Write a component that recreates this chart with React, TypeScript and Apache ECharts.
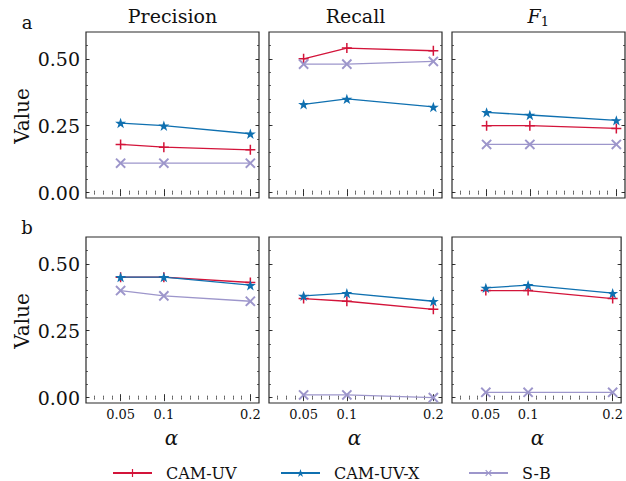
import React, { useEffect, useRef } from 'react';
import * as echarts from 'echarts';

// ---------- data ----------
const alphas = [0.05, 0.1, 0.2];
const seriesNames = ['CAM-UV', 'CAM-UV-X', 'S-B'];
const columnTitles = ['Precision', 'Recall', 'F1'];
const rowLabels = ['a', 'b'];

// row a
const precisionA_CAMUV = [0.18, 0.17, 0.16];
const precisionA_CAMUVX = [0.26, 0.25, 0.22];
const precisionA_SB = [0.11, 0.11, 0.11];
const recallA_CAMUV = [0.5, 0.54, 0.53];
const recallA_CAMUVX = [0.33, 0.35, 0.32];
const recallA_SB = [0.48, 0.48, 0.49];
const f1A_CAMUV = [0.25, 0.25, 0.24];
const f1A_CAMUVX = [0.3, 0.29, 0.27];
const f1A_SB = [0.18, 0.18, 0.18];
// row b
const precisionB_CAMUV = [0.45, 0.45, 0.43];
const precisionB_CAMUVX = [0.45, 0.45, 0.42];
const precisionB_SB = [0.4, 0.38, 0.36];
const recallB_CAMUV = [0.37, 0.36, 0.33];
const recallB_CAMUVX = [0.38, 0.39, 0.36];
const recallB_SB = [0.01, 0.01, 0.0];
const f1B_CAMUV = [0.4, 0.4, 0.37];
const f1B_CAMUVX = [0.41, 0.42, 0.39];
const f1B_SB = [0.02, 0.02, 0.02];

const panels = [
  [precisionA_CAMUV, precisionA_CAMUVX, precisionA_SB],
  [recallA_CAMUV, recallA_CAMUVX, recallA_SB],
  [f1A_CAMUV, f1A_CAMUVX, f1A_SB],
  [precisionB_CAMUV, precisionB_CAMUVX, precisionB_SB],
  [recallB_CAMUV, recallB_CAMUVX, recallB_SB],
  [f1B_CAMUV, f1B_CAMUVX, f1B_SB],
];

// ---------- ticks ----------
const xMin = 0.01;
const xMax = 0.21;
const yMin = -0.02;
const yMax = 0.6;
const xMajorTicks = [0.05, 0.1, 0.2];
const xMinorTicks = [0.02, 0.03, 0.04, 0.05, 0.06, 0.07, 0.08, 0.09, 0.1, 0.11, 0.12, 0.13, 0.14, 0.15, 0.16, 0.17, 0.18, 0.19, 0.2];
const yMajorTicks = [0, 0.25, 0.5];
const yMinorTicks = [0, 0.05, 0.1, 0.15, 0.2, 0.25, 0.3, 0.35, 0.4, 0.45, 0.5, 0.55];

// ---------- style ----------
const FONT = 'DejaVu Serif';
const colors = ['#d3143a', '#0f70b0', '#9d96cb'];
const PLUS = 'path://M8.5,0 L11.5,0 L11.5,8.5 L20,8.5 L20,11.5 L11.5,11.5 L11.5,20 L8.5,20 L8.5,11.5 L0,11.5 L0,8.5 L8.5,8.5 Z';
const STAR = 'path://M50,0 L61.8,35.1 L98.5,35.1 L68.8,56.8 L79.4,91.5 L50,70 L20.6,91.5 L31.2,56.8 L1.5,35.1 L38.2,35.1 Z';
const symbols = [PLUS, STAR, PLUS];
const symbolSizes = [10, 11, 13];
const symbolRotates = [0, 0, 45];

const gridLefts = [86, 269, 452];
const gridTops = [32, 237];
const gridW = 173;
const gridH = 166;
const tickColor = '#222';

export default function App() {
  const ref = useRef<HTMLDivElement>(null);
  useEffect(() => {
    if (!ref.current) return;
    const chart = echarts.init(ref.current, undefined, { renderer: 'svg' });

    const grids: any[] = [];
    const xAxes: any[] = [];
    const yAxes: any[] = [];
    const series: any[] = [];

    for (let g = 0; g < 6; g++) {
      const row = Math.floor(g / 3);
      const col = g % 3;
      grids.push({
        left: gridLefts[col],
        top: gridTops[row],
        width: gridW,
        height: gridH,
        show: true,
        borderColor: '#2a2a2a',
        borderWidth: 1.2,
        backgroundColor: 'transparent',
      });
      const xBase = {
        gridIndex: g,
        type: 'value',
        min: xMin,
        max: xMax,
        axisLine: { show: false },
        splitLine: { show: false },
      };
      const yBase = {
        gridIndex: g,
        type: 'value',
        min: yMin,
        max: yMax,
        axisLine: { show: false },
        splitLine: { show: false },
      };
      ['bottom', 'top'].forEach((pos) => {
        xAxes.push({
          ...xBase,
          position: pos,
          axisTick: { show: true, inside: true, length: 3.5, customValues: xMajorTicks, lineStyle: { color: tickColor, width: 0.9 } },
          axisLabel: {
            show: pos === 'bottom' && row === 1,
            customValues: xMajorTicks,
            formatter: (v: number) => String(v),
            fontFamily: FONT,
            fontSize: 13,
            color: '#111',
            margin: 5,
          },
        });
        xAxes.push({
          ...xBase,
          position: pos,
          axisTick: { show: true, inside: true, length: 2, customValues: xMinorTicks, lineStyle: { color: tickColor, width: 0.7 } },
          axisLabel: { show: false },
        });
      });
      ['left', 'right'].forEach((pos) => {
        yAxes.push({
          ...yBase,
          position: pos,
          axisTick: { show: true, inside: true, length: 3.5, customValues: yMajorTicks, lineStyle: { color: tickColor, width: 0.9 } },
          axisLabel: {
            show: pos === 'left' && col === 0,
            customValues: yMajorTicks,
            formatter: (v: number) => v.toFixed(2),
            fontFamily: FONT,
            fontSize: 19,
            color: '#111',
            margin: 6,
          },
        });
        yAxes.push({
          ...yBase,
          position: pos,
          axisTick: { show: true, inside: true, length: 2, customValues: yMinorTicks, lineStyle: { color: tickColor, width: 0.7 } },
          axisLabel: { show: false },
        });
      });

      panels[g].forEach((vals, s) => {
        series.push({
          type: 'line',
          name: seriesNames[s],
          xAxisIndex: 4 * g,
          yAxisIndex: 4 * g,
          data: alphas.map((a, i) => [a, vals[i]]),
          symbol: symbols[s],
          symbolSize: symbolSizes[s],
          symbolRotate: symbolRotates[s],
          symbolKeepAspect: true,
          showSymbol: true,
          lineStyle: { color: colors[s], width: 1.3 },
          itemStyle: { color: colors[s] },
          z: 2 + s,
          emphasis: { disabled: true },
        });
      });
    }

    const graphics: any[] = [];
    const textStyle = (extra: any) => ({ fontFamily: FONT, fill: '#111', ...extra });
    // column titles
    [0, 1].forEach((c) => {
      graphics.push({
        type: 'text',
        x: gridLefts[c] + gridW / 2,
        y: 16,
        style: textStyle({ text: columnTitles[c], fontSize: 19, align: 'center', verticalAlign: 'middle' }),
      });
    });
    graphics.push({
      type: 'text',
      x: 534,
      y: 16,
      style: textStyle({ text: 'F', fontSize: 19, fontStyle: 'italic', align: 'center', verticalAlign: 'middle' }),
    });
    graphics.push({
      type: 'text',
      x: 545,
      y: 21,
      style: textStyle({ text: '1', fontSize: 13, align: 'center', verticalAlign: 'middle' }),
    });
    // row labels & y names
    rowLabels.forEach((lab, r) => {
      graphics.push({
        type: 'text',
        x: 27,
        y: r === 0 ? 22 : 227,
        style: textStyle({ text: lab, fontSize: 18, align: 'center', verticalAlign: 'middle' }),
      });
      graphics.push({
        type: 'text',
        x: 22,
        y: gridTops[r] + 84,
        rotation: Math.PI / 2,
        style: textStyle({ text: 'Value', fontSize: 20, align: 'center', verticalAlign: 'middle' }),
      });
    });
    // alpha labels
    [0, 1, 2].forEach((c) => {
      graphics.push({
        type: 'text',
        x: gridLefts[c] + gridW / 2 - 1,
        y: 438,
        style: textStyle({ text: 'α', fontSize: 20, fontStyle: 'italic', align: 'center', verticalAlign: 'middle' }),
      });
    });

    const legendLefts = [112, 280, 468];
    const legends = seriesNames.map((n, i) => ({
      data: [n],
      left: legendLefts[i],
      top: 465,
      padding: 0,
      itemWidth: 39,
      itemHeight: 10,
      selectedMode: false,
      formatter: (name: string) => '{g|}{t|' + name + '}',
      textStyle: {
        fontFamily: FONT,
        fontSize: 16,
        color: '#111',
        rich: {
          g: { width: 9 },
          t: { fontFamily: FONT, fontSize: 16, color: '#111' },
        },
      },
    }));

    chart.setOption({
      animation: false,
      textStyle: { fontFamily: FONT },
      grid: grids,
      xAxis: xAxes,
      yAxis: yAxes,
      series,
      legend: legends,
      graphic: graphics,
    });
    return () => chart.dispose();
  }, []);

  return (
    <div
      ref={ref}
      style={{ position: 'fixed', left: 0, top: 0, width: 626, height: 481, background: '#fff' }}
    />
  );
}
